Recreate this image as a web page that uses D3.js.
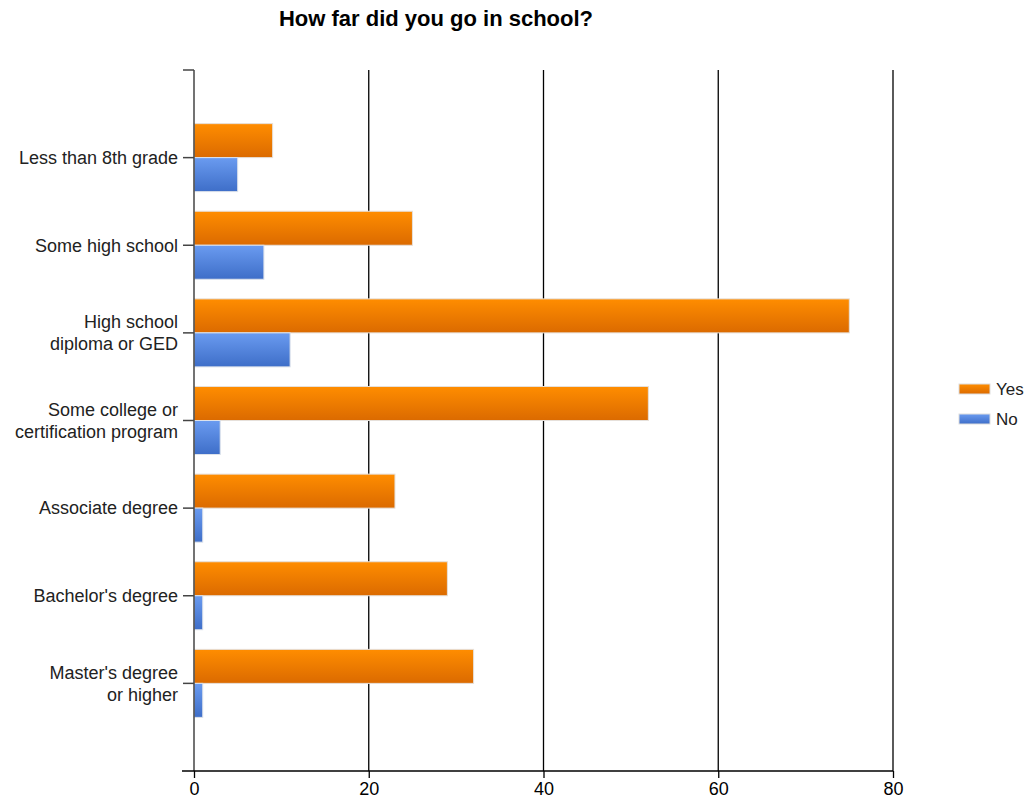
<!DOCTYPE html>
<html>
<head>
<meta charset="utf-8">
<script src="https://cdn.jsdelivr.net/npm/d3@7"></script>
<style>
  body { margin: 0; background: #fff; }
  text { font-family: "Liberation Sans", Arial, sans-serif; }
</style>
</head>
<body>
<svg id="chart" width="1029" height="805"></svg>
<script>
// Data
const categories = [
    ["Less than 8th grade"],
    ["Some high school"],
    ["High school", "diploma or GED"],
    ["Some college or", "certification program"],
    ["Associate degree"],
    ["Bachelor's degree"],
    ["Master's degree", "or higher"]
];
const yesValues = [9, 25, 75, 52, 23, 29, 32];
const noValues = [5, 8, 11, 3, 1, 1, 1];
const xTicks = [0, 20, 40, 60, 80];
const seriesNames = ["Yes", "No"];

const svg = d3.select("#chart");
const plotLeft = 194, plotRight = 893, plotTop = 70, plotBottom = 771;
const barH = 34;

const x = d3.scaleLinear().domain([0, 80]).range([plotLeft, plotRight]);
const y = d3.scalePoint()
    .domain(d3.range(categories.length))
    .range([plotTop, plotBottom])
    .padding(1);

// gradients
const defs = svg.append("defs");
function grad(id, c1, c2) {
    const g = defs.append("linearGradient").attr("id", id)
        .attr("x1", 0).attr("y1", 0).attr("x2", 0).attr("y2", 1);
    g.append("stop").attr("offset", "0%").attr("stop-color", c1);
    g.append("stop").attr("offset", "100%").attr("stop-color", c2);
}
grad("gYes", "#ff8d00", "#db6a00");
grad("gNo", "#6a9bf0", "#3e6ec8");

// title
svg.append("text")
    .attr("x", 436).attr("y", 26)
    .attr("text-anchor", "middle")
    .attr("font-size", 22).attr("font-weight", "bold")
    .attr("fill", "#000")
    .text("How far did you go in school?");

// vertical gridlines
svg.append("g").selectAll("line")
    .data(xTicks.slice(1))
    .enter().append("line")
    .attr("x1", d => x(d)).attr("x2", d => x(d))
    .attr("y1", plotTop).attr("y2", plotBottom)
    .attr("stroke", "#000").attr("stroke-width", 1.3);

// bars
const bars = svg.append("g");
bars.selectAll("rect.yes")
    .data(yesValues)
    .enter().append("rect")
    .attr("class", "yes")
    .attr("x", x(0))
    .attr("y", (d, i) => y(i) - barH)
    .attr("width", d => x(d) - x(0))
    .attr("height", barH)
    .attr("fill", "url(#gYes)")
    .attr("stroke", "#e6e0da").attr("stroke-width", 1);

bars.selectAll("rect.no")
    .data(noValues)
    .enter().append("rect")
    .attr("class", "no")
    .attr("x", x(0))
    .attr("y", (d, i) => y(i))
    .attr("width", d => x(d) - x(0))
    .attr("height", barH)
    .attr("fill", "url(#gNo)")
    .attr("stroke", "#dde2ea").attr("stroke-width", 1);

// left axis
const yAxis = svg.append("g");
yAxis.append("line")
    .attr("x1", plotLeft).attr("x2", plotLeft)
    .attr("y1", plotTop).attr("y2", plotBottom)
    .attr("stroke", "#444").attr("stroke-width", 1.5);
yAxis.selectAll("line.tick")
    .data([plotTop].concat(d3.range(categories.length).map(i => y(i))))
    .enter().append("line")
    .attr("class", "tick")
    .attr("x1", plotLeft - 11).attr("x2", plotLeft)
    .attr("y1", d => d).attr("y2", d => d)
    .attr("stroke", "#444").attr("stroke-width", 1.5);

const labels = yAxis.selectAll("text.cat")
    .data(categories)
    .enter().append("text")
    .attr("class", "cat")
    .attr("text-anchor", "end")
    .attr("font-size", 18)
    .attr("fill", "#222")
    .attr("transform", (d, i) => `translate(178,${y(i)})`);
labels.each(function (lines) {
    const t = d3.select(this);
    const lh = 22;
    lines.forEach((l, k) => {
        t.append("tspan")
            .attr("x", 0)
            .attr("y", (k - (lines.length - 1) / 2) * lh)
            .attr("dy", "0.35em")
            .text(l);
    });
});

// bottom axis
const xAxis = d3.axisBottom(x)
    .tickValues(xTicks)
    .tickSize(7)
    .tickPadding(4)
    .tickSizeOuter(0);
const gx = svg.append("g")
    .attr("transform", `translate(0,${plotBottom})`)
    .call(xAxis);
gx.select(".domain").attr("stroke", "#000").attr("stroke-width", 1.3)
    .attr("d", `M${plotLeft - 12},0H${plotRight}`);
gx.selectAll(".tick line").attr("stroke", "#000").attr("stroke-width", 1.3);
gx.selectAll(".tick text")
    .attr("font-size", 18)
    .attr("font-family", "'Liberation Sans', Arial, sans-serif")
    .attr("fill", "#000");

// legend
const legend = svg.append("g");
const legY = [389, 419];
const legFill = ["url(#gYes)", "url(#gNo)"];
seriesNames.forEach((name, i) => {
    legend.append("rect")
        .attr("x", 959).attr("y", legY[i] - 5)
        .attr("width", 31).attr("height", 10)
        .attr("fill", legFill[i])
        .attr("stroke", "#ddd");
    legend.append("text")
        .attr("x", 996).attr("y", legY[i])
        .attr("dy", "0.35em")
        .attr("font-size", 17)
        .attr("fill", "#222")
        .text(name);
});
</script>
</body>
</html>
